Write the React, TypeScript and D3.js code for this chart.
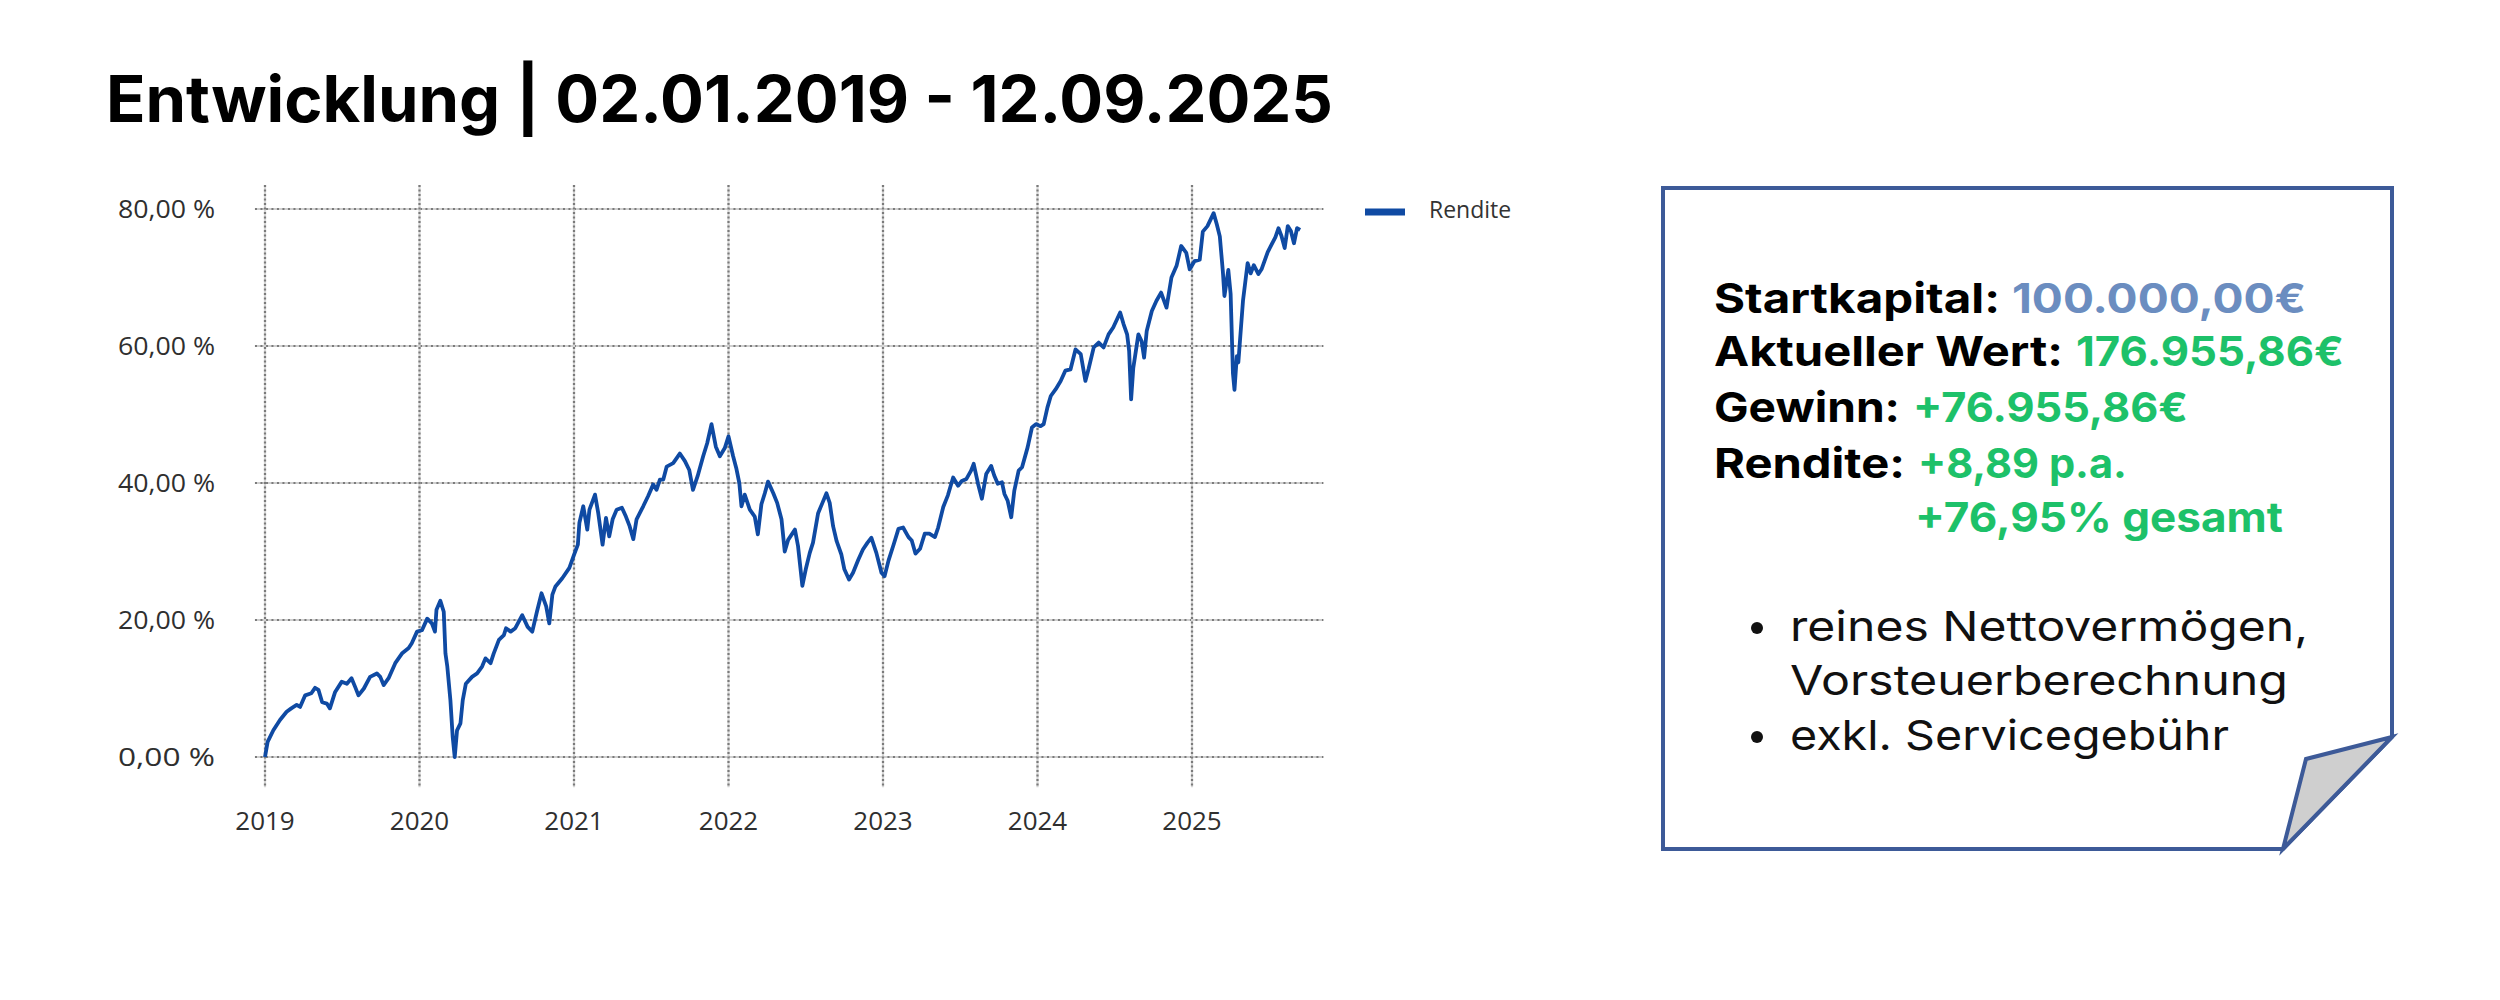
import React from "react";
import * as d3 from "d3";

// ---------- DATA ----------
const title = "Entwicklung | 02.01.2019 - 12.09.2025";
const seriesName = "Rendite";
const yTicks = [0, 20, 40, 60, 80];
const xTicks = [2019, 2020, 2021, 2022, 2023, 2024, 2025];

// decimal-year dates and return values (%)
const dates2019 = [2019.0, 2019.017, 2019.054, 2019.097, 2019.14, 2019.17, 2019.205, 2019.227, 2019.26, 2019.30, 2019.324, 2019.346, 2019.37, 2019.40, 2019.42, 2019.454, 2019.497, 2019.53, 2019.56, 2019.584, 2019.605, 2019.64, 2019.68, 2019.724, 2019.746, 2019.768, 2019.80, 2019.843, 2019.886, 2019.93, 2019.95, 2019.984];
const values2019 = [0, 2.2, 3.9, 5.4, 6.6, 7.1, 7.6, 7.3, 9.0, 9.3, 10.1, 9.8, 8.0, 7.8, 7.1, 9.5, 11.0, 10.7, 11.5, 10.2, 9.0, 10.0, 11.7, 12.2, 11.7, 10.5, 11.5, 13.7, 15.1, 15.9, 16.6, 18.3];

const dates2020 = [2020.016, 2020.05, 2020.08, 2020.10, 2020.11, 2020.135, 2020.157, 2020.168, 2020.18, 2020.2, 2020.215, 2020.228, 2020.243, 2020.265, 2020.28, 2020.30, 2020.34, 2020.373, 2020.405, 2020.427, 2020.46, 2020.48, 2020.514, 2020.546, 2020.56, 2020.59, 2020.62, 2020.665, 2020.70, 2020.73, 2020.76, 2020.79, 2020.82, 2020.84, 2020.86, 2020.88, 2020.924, 2020.97];
const values2020 = [18.5, 20.2, 19.5, 18.3, 21.5, 22.8, 21.2, 15.1, 13.2, 8.3, 2.9, 0, 3.9, 4.9, 8.3, 10.7, 11.7, 12.2, 13.2, 14.4, 13.7, 15.1, 17.1, 17.8, 18.8, 18.3, 18.8, 20.7, 19.0, 18.3, 21.2, 23.9, 22.0, 19.5, 23.7, 24.9, 26.1, 27.6];

const dates2021 = [2021.0, 2021.025, 2021.035, 2021.06, 2021.086, 2021.10, 2021.136, 2021.157, 2021.185, 2021.207, 2021.228, 2021.25, 2021.276, 2021.31, 2021.336, 2021.36, 2021.384, 2021.405, 2021.448, 2021.48, 2021.513, 2021.534, 2021.556, 2021.578, 2021.6, 2021.642, 2021.685, 2021.718, 2021.746, 2021.77, 2021.80, 2021.836, 2021.862, 2021.89, 2021.918, 2021.944, 2021.976];
const values2021 = [29.5, 31.0, 34.2, 36.6, 33.2, 36.1, 38.3, 35.6, 31.0, 34.9, 32.2, 34.7, 36.1, 36.4, 35.1, 33.7, 31.8, 34.7, 36.6, 38.1, 39.8, 39.0, 40.5, 40.5, 42.4, 42.9, 44.3, 43.2, 41.9, 39.0, 41.0, 43.9, 45.8, 48.6, 45.3, 43.9, 45.1];

const dates2022 = [2022.0, 2022.03, 2022.05, 2022.07, 2022.084, 2022.105, 2022.138, 2022.17, 2022.19, 2022.213, 2022.235, 2022.256, 2022.29, 2022.315, 2022.343, 2022.364, 2022.386, 2022.43, 2022.45, 2022.478, 2022.5, 2022.526, 2022.547, 2022.58, 2022.608, 2022.634, 2022.655, 2022.677, 2022.70, 2022.73, 2022.75, 2022.78, 2022.806, 2022.84, 2022.87, 2022.90, 2022.925, 2022.957, 2022.99];
const values2022 = [46.8, 43.9, 42.2, 40.0, 36.6, 38.3, 36.1, 35.1, 32.5, 36.9, 38.5, 40.2, 38.5, 37.1, 34.7, 30.0, 31.7, 33.2, 30.8, 25.0, 27.4, 29.8, 31.3, 35.6, 37.1, 38.5, 37.1, 33.7, 31.5, 29.6, 27.4, 25.9, 26.9, 28.8, 30.3, 31.3, 32.0, 29.8, 26.9];

const dates2023 = [2023.01, 2023.036, 2023.07, 2023.10, 2023.13, 2023.165, 2023.186, 2023.21, 2023.24, 2023.27, 2023.30, 2023.336, 2023.357, 2023.39, 2023.42, 2023.454, 2023.486, 2023.51, 2023.54, 2023.57, 2023.587, 2023.615, 2023.64, 2023.668, 2023.70, 2023.72, 2023.743, 2023.77, 2023.786, 2023.807, 2023.83, 2023.85, 2023.878, 2023.90, 2023.936, 2023.964, 2023.99];
const values2023 = [26.4, 28.7, 31.1, 33.3, 33.5, 32.1, 31.6, 29.7, 30.4, 32.6, 32.6, 32.1, 33.5, 36.5, 38.2, 40.8, 39.6, 40.3, 40.6, 41.8, 42.8, 39.9, 37.7, 41.3, 42.5, 41.1, 39.9, 40.1, 38.4, 37.4, 35.0, 38.9, 41.8, 42.3, 45.2, 48.1, 48.6];

const dates2024 = [2024.02, 2024.04, 2024.064, 2024.086, 2024.118, 2024.15, 2024.18, 2024.214, 2024.246, 2024.28, 2024.31, 2024.33, 2024.364, 2024.396, 2024.428, 2024.46, 2024.49, 2024.535, 2024.557, 2024.58, 2024.593, 2024.606, 2024.62, 2024.653, 2024.674, 2024.69, 2024.707, 2024.74, 2024.77, 2024.80, 2024.835, 2024.867, 2024.90, 2024.93, 2024.963, 2024.985];
const values2024 = [48.3, 48.6, 51.0, 52.7, 53.7, 54.9, 56.4, 56.6, 59.5, 58.8, 54.9, 56.6, 59.8, 60.5, 59.8, 61.7, 62.7, 64.9, 63.2, 61.7, 59.3, 52.2, 56.8, 61.7, 60.7, 58.3, 62.2, 65.1, 66.6, 67.8, 65.6, 70.0, 71.7, 74.6, 73.6, 71.2];

const dates2025 = [2025.017, 2025.05, 2025.07, 2025.10, 2025.14, 2025.16, 2025.18, 2025.20, 2025.21, 2025.235, 2025.25, 2025.265, 2025.275, 2025.29, 2025.30, 2025.33, 2025.36, 2025.38, 2025.40, 2025.43, 2025.45, 2025.49, 2025.54, 2025.56, 2025.58, 2025.60, 2025.62, 2025.64, 2025.66, 2025.68, 2025.70];
const values2025 = [72.4, 72.6, 76.7, 77.5, 79.4, 77.8, 76.0, 70.8, 67.3, 71.1, 67.6, 56.0, 53.6, 58.5, 57.6, 66.6, 72.1, 70.6, 71.8, 70.5, 71.2, 73.7, 75.9, 77.2, 76.0, 74.3, 77.5, 76.8, 75.0, 77.2, 76.95];

// info box content
const infoLabels = ["Startkapital:", "Aktueller Wert:", "Gewinn:", "Rendite:", ""];
const infoValues = ["100.000,00€", "176.955,86€", "+76.955,86€", "+8,89 p.a.", "+76,95% gesamt"];
const bulletLines = [["reines Nettovermögen,", "Vorsteuerberechnung"], ["exkl. Servicegebühr"]];

// ---------- STYLE / LAYOUT ----------
const W = 2500, H = 1000;
const LINE_COLOR = "#0f4aa3";
const GREEN = "#1dc169";
const STEEL = "#6b8dc0";
const BOX_STROKE = "#3d5a98";

const allDates = [...dates2019, ...dates2020, ...dates2021, ...dates2022, ...dates2023, ...dates2024, ...dates2025];
const allValues = [...values2019, ...values2020, ...values2021, ...values2022, ...values2023, ...values2024, ...values2025];
const data = allDates.slice(0, Math.min(allDates.length, allValues.length)).map((d, i) => ({ t: d, v: allValues[i] }));

const x = d3.scaleLinear().domain([2019, 2025]).range([265, 1192]);
const y = d3.scaleLinear().domain([0, 80]).range([757, 209]);
const gridX0 = x(2018.935), gridX1 = x(2025.85);
const gridY0 = y(83.5), gridY1 = y(-4.4);

const line = d3.line<{ t: number; v: number }>().x(d => x(d.t)).y(d => y(d.v)).curve(d3.curveLinear);
const fmtPct = (v: number) => `${v.toFixed(2).replace(".", ",")} %`;

// info box geometry
const box = { l: 1663, t: 188, r: 2392, b: 849, foldR: 737, foldB: 2283 };
const flap = { x: 2306, y: 759 };
const labelX = 1714;
const rowBase = [313, 366, 422, 478, 532];
const valueX = [2012, 2076, 1913, 1918, 1915];
const labelW = [286, 349, 186, 191, 0];
const valueW = [294, 268, 275, 209, 368];
const bulletX = 1757, bulletTextX = 1790;
const bulletBase = [[641, 695], [750]];
const bulletW = [[518, 498], [439]];

export default function App() {
  const boxPath = `M${box.l},${box.t} L${box.r},${box.t} L${box.r},${box.foldR} L${box.foldB},${box.b} L${box.l},${box.b} Z`;
  const flapPath = `M${box.r},${box.foldR} L${flap.x},${flap.y} L${box.foldB},${box.b} Z`;
  return (
    <svg width={W} height={H} viewBox={`0 0 ${W} ${H}`} style={{ position: "absolute", left: 0, top: 0, display: "block", background: "#fff" }}>
      <rect width={W} height={H} fill="#fff" />
      <text x={106} y={122} fontFamily="Inter, 'Open Sans', sans-serif" fontWeight={700} fontSize={64} fill="#000" textLength={1227} lengthAdjust="spacingAndGlyphs">{title}</text>

      {/* grid */}
      <g>
        {yTicks.map(t => (
          <g key={"h" + t}>
            <line x1={gridX0} x2={gridX1} y1={y(t)} y2={y(t)} stroke="#cfcfcf" strokeWidth={2.2} />
            <line x1={gridX0} x2={gridX1} y1={y(t)} y2={y(t)} stroke="#7a7a7a" strokeWidth={2.2} strokeDasharray="2,3.5" />
          </g>
        ))}
        {xTicks.map(t => (
          <g key={"v" + t}>
            <line x1={x(t)} x2={x(t)} y1={gridY0} y2={gridY1} stroke="#d6d6d6" strokeWidth={2.2} />
            <line x1={x(t)} x2={x(t)} y1={gridY0} y2={gridY1} stroke="#7a7a7a" strokeWidth={2.2} strokeDasharray="2,2.5" />
          </g>
        ))}
      </g>

      {/* axis labels */}
      <g fontFamily="'Open Sans', 'Noto Sans', sans-serif" fontSize={26} fill="#2f2f2f">
        {yTicks.map(t => (
          <text key={"yl" + t} x={215} y={y(t)} dy="0.35em" textAnchor="end" textLength={97} lengthAdjust="spacingAndGlyphs">{fmtPct(t)}</text>
        ))}
        {xTicks.map(t => (
          <text key={"xl" + t} x={x(t)} y={830} textAnchor="middle">{t}</text>
        ))}
      </g>

      {/* series */}
      <path d={line(data) || ""} fill="none" stroke={LINE_COLOR} strokeWidth={3.8} strokeLinejoin="round" />

      {/* legend */}
      <line x1={1365} x2={1405} y1={212} y2={212} stroke={LINE_COLOR} strokeWidth={7} />
      <text x={1429} y={210} dy="0.35em" fontFamily="'Open Sans', 'Noto Sans', sans-serif" fontSize={23} fill="#333">{seriesName}</text>

      {/* info box */}
      <path d={boxPath} fill="#fff" stroke={BOX_STROKE} strokeWidth={4} strokeLinejoin="miter" />
      <path d={flapPath} fill="#cfcfcf" stroke={BOX_STROKE} strokeWidth={4} strokeLinejoin="miter" />
      <g fontFamily="Inter, 'Open Sans', sans-serif" fontWeight={700} fontSize={41}>
        {infoLabels.map((lab, i) => (
          <React.Fragment key={"row" + i}>
            {lab ? (
              <text x={labelX} y={rowBase[i]} fill="#000" textLength={labelW[i]} lengthAdjust="spacingAndGlyphs">{lab}</text>
            ) : null}
            <text x={valueX[i]} y={rowBase[i]} fill={i === 0 ? STEEL : GREEN} textLength={valueW[i]} lengthAdjust="spacingAndGlyphs">{infoValues[i]}</text>
          </React.Fragment>
        ))}
      </g>
      <g fontFamily="Inter, 'Open Sans', sans-serif" fontWeight={400} fontSize={41} fill="#111">
        {bulletLines.map((lines, bi) => (
          <g key={"b" + bi}>
            <circle cx={bulletX} cy={bulletBase[bi][0] - 13} r={6} fill="#111" />
            {lines.map((ln, li) => (
              <text key={li} x={bulletTextX} y={bulletBase[bi][li]} textLength={bulletW[bi][li]} lengthAdjust="spacingAndGlyphs">{ln}</text>
            ))}
          </g>
        ))}
      </g>
    </svg>
  );
}
